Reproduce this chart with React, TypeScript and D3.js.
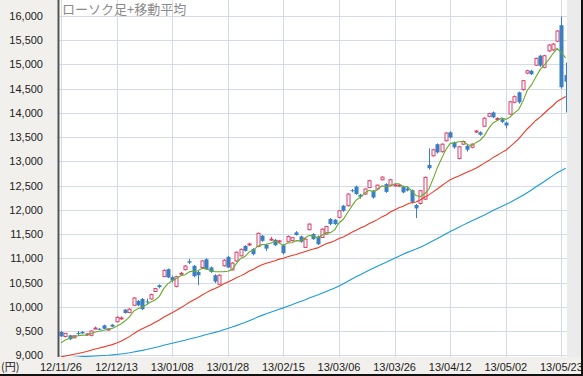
import React from "react";
import * as d3 from "d3";

const dates = ["12/11/26","12/11/27","12/11/28","12/11/29","12/11/30","12/12/03","12/12/04","12/12/05","12/12/06","12/12/07","12/12/10","12/12/11","12/12/12","12/12/13","12/12/14","12/12/17","12/12/18","12/12/19","12/12/20","12/12/21","12/12/25","12/12/26","12/12/27","12/12/28","13/01/04","13/01/07","13/01/08","13/01/09","13/01/10","13/01/11","13/01/15","13/01/16","13/01/17","13/01/18","13/01/21","13/01/22","13/01/23","13/01/24","13/01/25","13/01/28","13/01/29","13/01/30","13/01/31","13/02/01","13/02/04","13/02/05","13/02/06","13/02/07","13/02/08","13/02/12","13/02/13","13/02/14","13/02/15","13/02/18","13/02/19","13/02/20","13/02/21","13/02/22","13/02/25","13/02/26","13/02/27","13/02/28","13/03/01","13/03/04","13/03/05","13/03/06","13/03/07","13/03/08","13/03/11","13/03/12","13/03/13","13/03/14","13/03/15","13/03/18","13/03/19","13/03/21","13/03/22","13/03/25","13/03/26","13/03/27","13/03/28","13/03/29","13/04/01","13/04/02","13/04/03","13/04/04","13/04/05","13/04/08","13/04/09","13/04/10","13/04/11","13/04/12","13/04/15","13/04/16","13/04/17","13/04/18","13/04/19","13/04/22","13/04/23","13/04/24","13/04/25","13/04/26","13/04/30","13/05/01","13/05/02","13/05/07","13/05/08","13/05/09","13/05/10","13/05/13","13/05/14","13/05/15","13/05/16","13/05/17","13/05/20","13/05/21","13/05/22","13/05/23","13/05/24"];

const opens = [9480,9385,9410,9360,9455,9480,9420,9410,9555,9545,
9615,9520,9630,9690,9760,9940,9880,10030,10120,10160,
10110,10160,10315,10445,10625,10775,10610,10420,10680,10765,
10940,10845,10720,10810,10980,10810,10650,10465,10845,11030,
10760,10945,11050,11255,11280,11190,11245,11465,11280,11385,
11380,11350,11270,11340,11365,11535,11450,11225,11590,11500,
11450,11430,11500,11810,11795,11845,12085,12085,12405,12480,
12310,12325,12460,12395,12430,12620,12530,12510,12505,12490,
12480,12440,12405,12100,12130,12220,12925,13115,13355,13200,
13425,13600,13390,13060,13355,13320,13290,13610,13600,13725,
13930,14010,13870,13870,13800,13975,14220,14425,14480,14822,
14870,14985,15180,14940,15280,15300,15480,15810,14780];

const highs = [9500,9460,9420,9410,9500,9500,9450,9510,9590,9560,
9630,9560,9640,9800,9800,9950,9970,10200,10140,10180,
10170,10270,10390,10460,10770,10790,10640,10640,10720,10860,
10985,10860,10740,10960,11000,10830,10670,10670,10980,11050,
10920,11140,11200,11270,11320,11210,11530,11480,11300,11440,
11400,11380,11290,11470,11440,11560,11470,11410,11720,11520,
11470,11620,11670,11830,11810,11995,12100,12340,12430,12500,
12330,12440,12620,12410,12520,12690,12550,12640,12540,12530,
12500,12470,12420,12120,12410,12690,13270,13260,13370,13370,
13600,13620,13410,13320,13430,13340,13370,13650,13620,13910,
14000,14030,13910,13890,13820,14250,14360,14440,14680,14890,
14890,15140,15200,15200,15420,15440,15710,15990,15040];

const lows = [9380,9370,9310,9350,9400,9440,9400,9390,9535,9515,
9540,9510,9580,9680,9730,9860,9870,10020,10010,9930,
10050,10150,10300,10380,10610,10590,10500,10400,10650,10750,
10880,10610,10445,10800,10760,10700,10490,10450,10830,10800,
10750,10930,11040,11140,11260,11060,11230,11340,11150,11360,
11250,11320,11080,11330,11350,11470,11320,11210,11580,11380,
11270,11420,11490,11680,11690,11830,11960,12070,12360,12310,
12230,12310,12450,12230,12420,12610,12350,12500,12480,12470,
12340,12380,12130,11830,12110,12200,12830,13100,13160,13180,
13410,13470,13260,13040,13340,13200,13270,13590,13530,13710,
13910,13890,13850,13790,13680,13960,14200,14190,14460,14800,
14780,14970,14950,14920,15260,15280,15460,14500,14010];

const closes = [9389,9450,9330,9400,9440,9450,9440,9500,9560,9530,
9545,9540,9590,9780,9770,9870,9950,10180,10030,9950,
10090,10250,10375,10405,10750,10605,10540,10620,10690,10840,
10910,10630,10650,10945,10775,10720,10520,10650,10960,10810,
10900,11125,11185,11155,11295,11085,11515,11360,11200,11395,
11270,11360,11105,11450,11425,11480,11340,11395,11705,11395,
11290,11600,11655,11705,11705,11980,11980,12325,12390,12325,
12270,12430,12600,12255,12510,12675,12370,12620,12515,12510,
12360,12400,12165,12030,12395,12670,12860,13240,13185,13355,
13585,13495,13290,13300,13410,13240,13355,13625,13550,13890,
13985,13910,13885,13815,13740,14230,14335,14220,14665,14870,
14800,15125,14975,15180,15400,15420,15690,14530,14645];

// closes of the 74 sessions before the first candle, needed for the moving averages
const priorCloses = [8978,8891,8885,8930,8929,9092,9163,9171,9156,9131,9178,9070,9085,9034,9033,8983,8839,
8783,8775,8679,8680,8871,8869,8807,8959,8995,9159,9123,9232,9086,9110,9069,9091,8906,8949,8870,
8797,8786,8746,8824,8863,8769,8596,8546,8534,8577,8701,8806,8982,9002,9010,8932,8955,9055,8933,8929,8841,8928,
8946,9007,8975,8975,8972,8837,8757,8676,8661,8664,8829,9024,9153,9142,9222,9366];

const maPeriods = [5, 25, 75];
const maColors = ["#6aaa2a", "#ee3a26", "#1c9bd8"];
const yTicks = [9000,9500,10000,10500,11000,11500,12000,12500,13000,13500,14000,14500,15000,15500,16000];
const xTickIdx = [0,13,26,39,52,65,78,91,104,117];
const title = "ローソク足+移動平均";
const unitLabel = "(円)";

export default function App() {
  const W = 583, H = 376;
  const left = 59, right = 567, top = 0, bottom = 357;
  const x = d3.scaleLinear().domain([0, 117]).range([61, 561.4]);
  const y = d3.scaleLinear().domain([9000, 16000]).range([355.2, 16]);
  const all = priorCloses.concat(closes);
  const off = priorCloses.length;
  const mas = maPeriods.map((n) =>
    closes.map((_, i) => d3.mean(all.slice(off + i - n + 1, off + i + 1)) as number)
  );
  const line = d3.line<number>().x((_, i) => x(i)).y((v) => y(v));
  const bw = 3;
  const upC = "#d9416a", dnC = "#3a7fc2";
  const fmt = d3.format(",");
  return (
    <svg width={W} height={H} style={{ position: "absolute", left: 0, top: 0, display: "block" }}>
      <defs>
        <clipPath id="plot">
          <rect x={left} y={top} width={right - left} height={bottom - top} />
        </clipPath>
      </defs>
      <rect x={0} y={0} width={W} height={H} fill="#f1f0ec" />
      <rect x={left} y={top} width={right - left} height={bottom - top} fill="#ffffff" />
      <rect x={right} y={0} width={W - right - 2} height={bottom} fill="#ebebeb" />
      {yTicks.map((t) => (
        <line key={"h" + t} x1={left} x2={right} y1={Math.round(y(t)) + 0.5} y2={Math.round(y(t)) + 0.5} stroke="#d3dbea" strokeWidth={1} />
      ))}
      {xTickIdx.map((i) => (
        <line key={"v" + i} x1={Math.round(x(i)) + 0.5} x2={Math.round(x(i)) + 0.5} y1={top} y2={bottom} stroke="#d3dbea" strokeWidth={1} />
      ))}
      <text x={62} y={14} fontFamily="'Noto Sans CJK JP', sans-serif" fontSize={13} fill="#8a8a8a">{title}</text>
      <g clipPath="url(#plot)">
        {closes.map((c, i) => {
          const o = opens[i];
          const up = c >= o;
          const col = up ? upC : dnC;
          const cx = Math.round(x(i)) + 0.5;
          const yt = y(Math.max(o, c)), yb = y(Math.min(o, c));
          const h = Math.max(1, yb - yt);
          return (
            <g key={"c" + i}>
              <line x1={cx} x2={cx} y1={y(highs[i])} y2={y(lows[i])} stroke={col} strokeWidth={1} />
              {up ? (
                <rect x={cx - 1.5} y={yt} width={bw} height={h} fill="#fff" stroke={col} strokeWidth={1} />
              ) : (
                <rect x={cx - 2} y={yt} width={bw + 1} height={h} fill={col} />
              )}
            </g>
          );
        })}
        {mas.map((m, k) => (
          <path key={"ma" + k} d={line(m) as string} fill="none" stroke={maColors[k]} strokeWidth={1.1} />
        ))}
      </g>
      <line x1={left - 0.5} x2={left - 0.5} y1={0} y2={bottom} stroke="#555" strokeWidth={2} />
      {yTicks.map((t) => (
        <text key={"yl" + t} x={43} y={y(t) + 4} textAnchor="end" fontFamily="'Liberation Sans', Arial, sans-serif" fontSize={11} fill="#222">{fmt(t)}</text>
      ))}
      {xTickIdx.map((i) => (
        <text key={"xl" + i} x={x(i)} y={371} textAnchor="middle" fontFamily="'Liberation Sans', Arial, sans-serif" fontSize={11} fill="#222">{dates[i]}</text>
      ))}
      <text x={1} y={371} fontFamily="'Noto Sans CJK JP', sans-serif" fontSize={11} fill="#222">{unitLabel}</text>
      <line x1={0} x2={W} y1={H - 1} y2={H - 1} stroke="#111" strokeWidth={2} />
      <line x1={W - 1} x2={W - 1} y1={0} y2={H} stroke="#111" strokeWidth={2} />
    </svg>
  );
}
